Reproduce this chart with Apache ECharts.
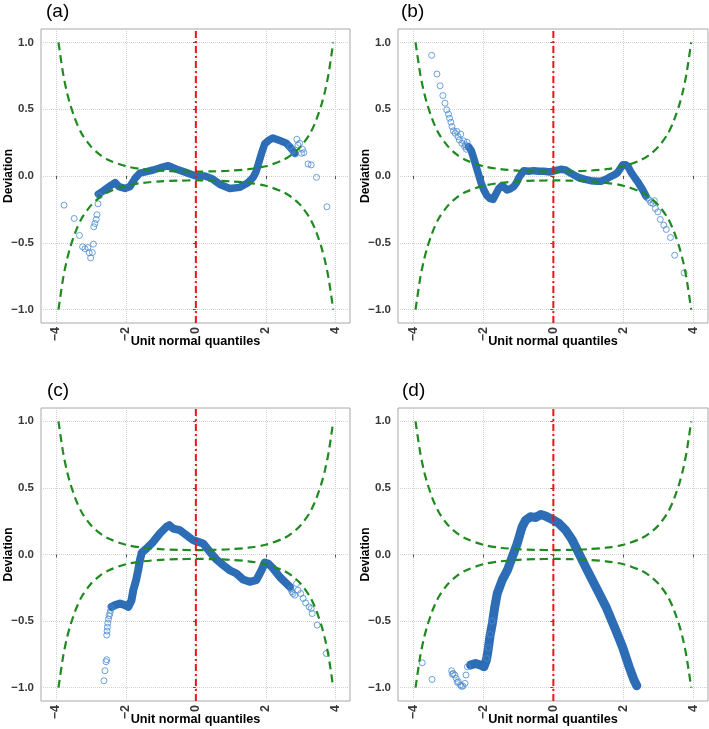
<!DOCTYPE html>
<html>
<head>
<meta charset="utf-8">
<script src="https://cdn.jsdelivr.net/npm/echarts@6/dist/echarts.min.js"></script>
<style>
html,body{margin:0;padding:0;background:#fff;}
#chart{width:709px;height:729px;}
</style>
</head>
<body>
<div id="chart"></div>
<script>
// ---- ticks ----
const xTicks = [-4, -2, 0, 2, 4];
const yTicks = [-1, -0.5, 0, 0.5, 1];
const panelLabels = ['(a)', '(b)', '(c)', '(d)'];

// ---- confidence bands ----
const bandZ = [-3.93, -3.8, -3.7, -3.6, -3.5, -3.4, -3.25, -3.0, -2.75, -2.5, -2.0, -1.5, -1.0, -0.5, 0, 0.5, 1.0, 1.5, 2.0, 2.5, 2.75, 3.0, 3.25, 3.4, 3.5, 3.6, 3.7, 3.8, 3.93];
const bandUpper = [1.0, 0.77, 0.64, 0.54, 0.46, 0.39, 0.31, 0.22, 0.16, 0.12, 0.073, 0.051, 0.040, 0.035, 0.033, 0.035, 0.040, 0.051, 0.073, 0.12, 0.16, 0.22, 0.31, 0.39, 0.46, 0.54, 0.64, 0.77, 1.0];
const bandLower = [-1.0, -0.77, -0.64, -0.54, -0.46, -0.39, -0.31, -0.22, -0.16, -0.12, -0.073, -0.051, -0.040, -0.035, -0.033, -0.035, -0.040, -0.051, -0.073, -0.12, -0.16, -0.22, -0.31, -0.39, -0.46, -0.54, -0.64, -0.77, -1.0];

// ---- reference line ----
const refX = [0, 0];
const refY = [-1.1, 1.1];

// ---- panel (a) ----
const wormAZ = [-2.79, -2.67, -2.55, -2.43, -2.31, -2.2, -2.03, -1.89, -1.74, -1.6, -1.41, -1.22, -1.03, -0.79, -0.55, -0.27, 0, 0.26, 0.45, 0.69, 0.97, 1.26, 1.49, 1.64, 1.72, 1.8, 1.88, 1.97, 2.1, 2.2, 2.4, 2.59, 2.73, 2.83];
const wormAV = [-0.135, -0.115, -0.093, -0.07, -0.05, -0.08, -0.093, -0.08, -0.018, 0.022, 0.033, 0.045, 0.06, 0.077, 0.05, 0.025, 0, 0, -0.018, -0.063, -0.093, -0.085, -0.05, -0.01, 0.03, 0.1, 0.17, 0.24, 0.27, 0.285, 0.265, 0.245, 0.205, 0.17];
const ptsAZ = [-3.77, -3.48, -3.33, -3.24, -3.17, -3.09, -3.05, -3.01, -2.96, -2.93, -2.92, -2.89, -2.85, -2.83, -2.8, -2.76, 2.7, 2.78, 2.85, 2.89, 2.92, 2.97, 3.02, 3.05, 3.09, 3.21, 3.3, 3.45, 3.75];
const ptsAV = [-0.218, -0.318, -0.445, -0.53, -0.545, -0.535, -0.575, -0.613, -0.573, -0.51, -0.38, -0.355, -0.325, -0.29, -0.208, -0.148, 0.22, 0.19, 0.165, 0.275, 0.232, 0.245, 0.17, 0.2, 0.175, 0.09, 0.083, -0.01, -0.23];

// ---- panel (b) ----
const wormBZ = [-2.42, -2.34, -2.27, -2.2, -2.12, -2.05, -1.98, -1.9, -1.8, -1.72, -1.65, -1.56, -1.48, -1.42, -1.32, -1.22, -1.13, -1.05, -0.99, -0.9, -0.84, -0.7, -0.56, -0.4, -0.27, -0.1, 0.05, 0.21, 0.35, 0.5, 0.69, 0.9, 1.07, 1.25, 1.36, 1.5, 1.59, 1.75, 1.83, 1.92, 1.98, 2.05, 2.12, 2.2, 2.26, 2.34, 2.41, 2.48, 2.55, 2.64];
const wormBV = [0.22, 0.19, 0.133, 0.07, 0.0, -0.06, -0.105, -0.145, -0.17, -0.175, -0.14, -0.095, -0.075, -0.08, -0.105, -0.095, -0.08, -0.05, -0.015, 0.02, 0.04, 0.035, 0.04, 0.035, 0.035, 0.03, 0.04, 0.05, 0.045, 0.02, -0.008, -0.025, -0.035, -0.04, -0.04, -0.025, -0.01, 0.01, 0.025, 0.06, 0.085, 0.085, 0.075, 0.035, 0.01, -0.02, -0.045, -0.075, -0.105, -0.15];
const ptsBZ = [-3.47, -3.32, -3.23, -3.15, -3.09, -3.04, -2.99, -2.96, -2.92, -2.89, -2.85, -2.8, -2.75, -2.72, -2.68, -2.64, -2.61, -2.56, -2.53, -2.51, -2.48, -2.46, 2.68, 2.74, 2.78, 2.84, 2.88, 2.91, 2.98, 3.05, 3.15, 3.22, 3.34, 3.46, 3.73];
const ptsBV = [0.903, 0.763, 0.675, 0.602, 0.545, 0.495, 0.463, 0.433, 0.403, 0.37, 0.338, 0.32, 0.333, 0.295, 0.27, 0.313, 0.245, 0.263, 0.22, 0.233, 0.2, 0.253, -0.165, -0.18, -0.2, -0.205, -0.185, -0.243, -0.268, -0.325, -0.368, -0.4, -0.46, -0.593, -0.725];

// ---- panel (c) ----
const wormCZ = [-2.41, -2.31, -2.17, -2.03, -1.93, -1.84, -1.79, -1.71, -1.65, -1.6, -1.55, -1.41, -1.22, -1.03, -0.84, -0.76, -0.65, -0.46, -0.27, -0.08, 0.07, 0.21, 0.4, 0.59, 0.78, 0.97, 1.16, 1.35, 1.54, 1.73, 1.88, 1.97, 2.07, 2.21, 2.4, 2.54, 2.69];
const wormCV = [-0.393, -0.38, -0.368, -0.38, -0.393, -0.343, -0.268, -0.193, -0.118, -0.043, 0.013, 0.045, 0.095, 0.158, 0.208, 0.22, 0.195, 0.183, 0.145, 0.108, 0.095, 0.083, 0.02, -0.038, -0.08, -0.118, -0.143, -0.188, -0.205, -0.193, -0.118, -0.06, -0.068, -0.105, -0.168, -0.205, -0.243];
const ptsCZ = [-2.63, -2.6, -2.57, -2.55, -2.55, -2.54, -2.53, -2.52, -2.5, -2.48, -2.46, -2.44, -2.42, 2.72, 2.75, 2.78, 2.83, 2.88, 2.92, 3.0, 3.07, 3.14, 3.24, 3.3, 3.33, 3.47, 3.73];
const ptsCV = [-0.948, -0.873, -0.805, -0.79, -0.605, -0.575, -0.545, -0.515, -0.485, -0.46, -0.443, -0.42, -0.4, -0.26, -0.28, -0.293, -0.305, -0.218, -0.268, -0.293, -0.33, -0.363, -0.393, -0.405, -0.443, -0.53, -0.743];

// ---- panel (d) ----
const wormDZ = [-2.36, -2.22, -2.08, -1.98, -1.91, -1.86, -1.81, -1.74, -1.67, -1.6, -1.46, -1.31, -1.17, -1.03, -0.89, -0.79, -0.65, -0.5, -0.36, -0.22, -0.03, 0.16, 0.35, 0.54, 0.73, 0.92, 1.21, 1.5, 1.78, 1.97, 2.16, 2.3, 2.38];
const wormDV = [-0.83, -0.818, -0.83, -0.843, -0.793, -0.718, -0.618, -0.518, -0.393, -0.293, -0.193, -0.118, -0.018, 0.083, 0.208, 0.258, 0.283, 0.278, 0.3, 0.288, 0.263, 0.233, 0.183, 0.108, 0.008, -0.093, -0.243, -0.393, -0.568, -0.693, -0.843, -0.943, -0.985];
const ptsDZ = [-3.74, -3.46, -2.9, -2.88, -2.86, -2.81, -2.77, -2.74, -2.71, -2.65, -2.62, -2.58, -2.52, -2.49, -2.45, -1.9, -1.85, -1.8, -1.75];
const ptsDV = [-0.813, -0.938, -0.873, -0.9, -0.893, -0.905, -0.93, -0.96, -0.955, -0.98, -0.99, -0.988, -0.968, -0.905, -0.843, -0.78, -0.7, -0.6, -0.5];

const panels = [
  { wz: wormAZ, wv: wormAV, pz: ptsAZ, pv: ptsAV, w: 7.5 },
  { wz: wormBZ, wv: wormBV, pz: ptsBZ, pv: ptsBV, w: 7.5 },
  { wz: wormCZ, wv: wormCV, pz: ptsCZ, pv: ptsCV, w: 8 },
  { wz: wormDZ, wv: wormDV, pz: ptsDZ, pv: ptsDV, w: 9 }
];

const gridPos = [
  { left: 41, top: 29, width: 309, height: 294 },
  { left: 398, top: 29, width: 310, height: 294 },
  { left: 41, top: 408, width: 309, height: 293 },
  { left: 398, top: 408, width: 310, height: 293 }
];
const labelPos = [[46, 2], [401, 2], [47, 381], [402, 381]];

const FONT = 'Liberation Sans, Arial, Helvetica, sans-serif';
const zip = (a, b) => a.map((v, i) => [v, b[i]]);
const fmt = v => (v < 0 ? '\u2212' : '') + Math.abs(v).toString();
const fmtY = v => (v < 0 ? '\u2212' : '') + Math.abs(v).toFixed(1);

const option = {
  animation: false,
  backgroundColor: '#ffffff',
  title: panelLabels.map((t, i) => ({
    text: t, left: labelPos[i][0], top: labelPos[i][1], padding: 0,
    textStyle: { fontSize: 19, fontWeight: 'normal', color: '#000', fontFamily: FONT }
  })),
  grid: gridPos.map(g => Object.assign({ show: true, borderColor: '#a8a8a8', borderWidth: 1, backgroundColor: '#fff', containLabel: false, outerBoundsMode: 'none' }, g)),
  xAxis: gridPos.map((g, i) => ({
    type: 'value', gridIndex: i, min: -4.43, max: 4.41,
    name: 'Unit normal quantiles', nameLocation: 'middle', nameGap: 12, nameMoveOverlap: false,
    nameTextStyle: { fontSize: 12.7, fontWeight: 'bold', color: '#000', fontFamily: FONT },
    axisLine: { show: false },
    axisTick: { show: true, length: 3, customValues: xTicks, lineStyle: { color: '#555' } },
    axisLabel: { customValues: xTicks, rotate: 90, margin: 4, fontSize: 12.5, fontWeight: 'bold', color: '#383838', fontFamily: FONT, formatter: fmt },
    splitLine: { show: true, lineStyle: { type: 'dotted', color: '#d2d2d2', width: 1 } }
  })),
  yAxis: gridPos.map((g, i) => ({
    type: 'value', gridIndex: i, min: -1.1, max: 1.1,
    name: 'Deviation', nameLocation: 'middle', nameGap: 26, nameMoveOverlap: false,
    nameTextStyle: { fontSize: 12, fontWeight: 'bold', color: '#000', fontFamily: FONT },
    axisLine: { show: false },
    axisTick: { show: true, length: 3, customValues: yTicks, lineStyle: { color: '#555' } },
    axisLabel: { customValues: yTicks, margin: 7, fontSize: 11.5, fontWeight: 'bold', color: '#383838', fontFamily: FONT, formatter: fmtY },
    splitLine: { show: true, lineStyle: { type: 'dotted', color: '#d2d2d2', width: 1 } }
  })),
  series: []
};

panels.forEach((p, i) => {
  option.series.push({
    type: 'line', xAxisIndex: i, yAxisIndex: i, data: zip(p.wz, p.wv),
    showSymbol: false, silent: true, z: 2,
    lineStyle: { color: '#2c6db5', width: p.w, cap: 'round', join: 'round' }
  });
  option.series.push({
    type: 'scatter', xAxisIndex: i, yAxisIndex: i, data: zip(p.pz, p.pv),
    symbol: 'circle', symbolSize: 6, silent: true, z: 3,
    itemStyle: { color: 'rgba(255,255,255,0)', borderColor: '#4a89cf', borderWidth: 1 }
  });
  option.series.push({
    type: 'line', xAxisIndex: i, yAxisIndex: i, data: zip(bandZ, bandUpper),
    showSymbol: false, silent: true, smooth: 0.3, z: 4,
    lineStyle: { color: '#1f8a1f', width: 2.2, type: [8, 5] }
  });
  option.series.push({
    type: 'line', xAxisIndex: i, yAxisIndex: i, data: zip(bandZ, bandLower),
    showSymbol: false, silent: true, smooth: 0.3, z: 4,
    lineStyle: { color: '#1f8a1f', width: 2.2, type: [8, 5] }
  });
  option.series.push({
    type: 'line', xAxisIndex: i, yAxisIndex: i, data: zip(refX, refY),
    showSymbol: false, silent: true, z: 5,
    lineStyle: { color: '#e8161b', width: 2, type: [7, 3, 2, 3] }
  });
});

const chart = echarts.init(document.getElementById('chart'), null, { renderer: 'canvas' });
chart.setOption(option);
</script>
</body>
</html>
